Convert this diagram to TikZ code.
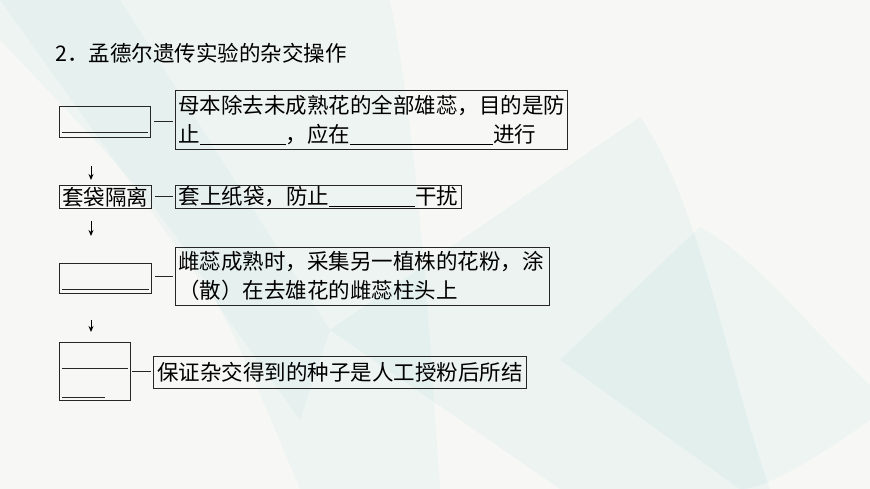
\documentclass[tikz,border=0pt]{standalone}
\usepackage{fontspec}
\newfontfamily\cjk{Noto Sans CJK SC}
\usetikzlibrary{arrows.meta}
\newcommand\blank[1]{\rule[-2.5pt]{#1pt}{0.8pt}}
\definecolor{bgpaper}{RGB}{247,248,246}
\definecolor{bgteal}{RGB}{140,205,205}

\begin{document}
\begin{tikzpicture}[x=1pt,y=-1pt,
	stepbox/.style={draw=black!85,line width=0.8pt,anchor=north west,inner xsep=3pt,inner ysep=0pt,align=left,font=\cjk\fontsize{21.5}{29}\selectfont},
	link/.style={draw=black!85,line width=0.8pt},
	flow/.style={draw=black,line width=0.9pt,-{Stealth[length=6pt,width=5pt]}}]
	\useasboundingbox (0,0) rectangle (870,489);
	% background
	\fill[bgpaper] (0,0) rectangle (870,489);
	\fill[bgteal,opacity=0.09] (0,0) -- (390,0) .. controls (420,150) and (430,350) .. (440,489) -- (300,489) .. controls (200,250) .. (0,40) -- cycle;
	\fill[bgteal,opacity=0.07] (0,0) -- (120,0) -- (330,330) -- (300,420) -- cycle;
	\fill[bgteal,opacity=0.10] (640,117) .. controls (700,200) and (730,380) .. (770,489) -- (560,489) -- (330,330) -- cycle;
	\fill[bgteal,opacity=0.09] (700,227) .. controls (760,260) and (820,340) .. (870,385) -- (870,420) .. controls (800,470) and (760,489) .. (740,489) -- (560,360) -- cycle;
	% title
	\node[anchor=west,inner sep=0,font=\cjk\fontsize{21.5}{26}\selectfont] (title) at (55,53) {2．孟德尔遗传实验的杂交操作};
	% left column
	\node[stepbox,minimum width=91,minimum height=31] (b1) at (59,106) {};
	\node[stepbox,minimum width=91,minimum height=23] (b3) at (59,185) {套袋隔离};
	\node[stepbox,minimum width=92,minimum height=30] (b5) at (59,263) {};
	\node[stepbox,minimum width=71,minimum height=58] (b7) at (59,342) {};
	% right column
	\node[stepbox,minimum width=392,minimum height=59,text width=386] (r1) at (175,90) {母本除去未成熟花的全部雄蕊，目的是防\\止\blank{86}，应在\blank{143}进行};
	\node[stepbox,minimum width=286,minimum height=23] (r2) at (175,185) {套上纸袋，防止\blank{86}干扰};
	\node[stepbox,minimum width=374,minimum height=58,text width=368] (r3) at (175,247) {雌蕊成熟时，采集另一植株的花粉，涂\\（散）在去雄花的雌蕊柱头上};
	\node[stepbox,minimum width=373,minimum height=32] (r4) at (153,356) {保证杂交得到的种子是人工授粉后所结};
	% blanks in the left boxes
	\draw[link] ([xshift=3,yshift=5]b1.south west) -- ([xshift=-3,yshift=5]b1.south east);
	\draw[link] ([xshift=3,yshift=4]b5.south west) -- ([xshift=-3,yshift=4]b5.south east);
	\draw[link] ([xshift=3,yshift=32]b7.south west) -- ([xshift=-3,yshift=32]b7.south east);
	\draw[link] ([xshift=3,yshift=3]b7.south west) -- ([xshift=46,yshift=3]b7.south west);
	% dashes
	\draw[link,shorten <=3,shorten >=2] (b1.east) -- (b1.east -| r1.west);
	\draw[link,shorten <=3,shorten >=2] (b3.east) -- (b3.east -| r2.west);
	\draw[link,shorten <=3,shorten >=2] ([yshift=2]b5.east) -- ([yshift=2]b5.east -| r3.west);
	\draw[link,shorten <=1,shorten >=2] (b7.east) -- (b7.east -| r4.west);
	% arrows
	\draw[flow,shorten <=28,shorten >=5] ([xshift=32]b1.south west) -- ([xshift=32]b3.north west);
	\draw[flow,shorten <=12,shorten >=27] ([xshift=32]b3.south west) -- ([xshift=32]b5.north west);
	\draw[flow,shorten <=26,shorten >=10] ([xshift=32]b5.south west) -- ([xshift=32]b7.north west);
\end{tikzpicture}
\end{document}
